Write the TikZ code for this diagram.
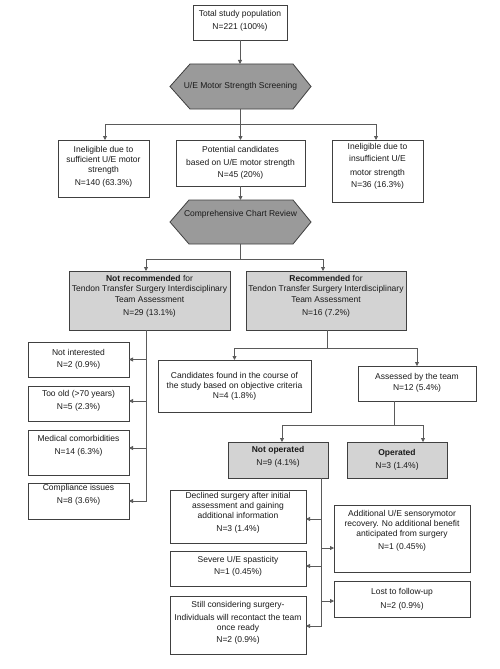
\documentclass[tikz,border=0pt]{standalone}
\usepackage{fontspec}
\setmainfont{Liberation Sans}
\usetikzlibrary{arrows.meta,calc}
\definecolor{linec}{HTML}{404040}
\definecolor{connc}{HTML}{5A5A5A}
\definecolor{hexc}{HTML}{9A9A9A}
\definecolor{grayc}{HTML}{D3D3D3}
\definecolor{txtc}{HTML}{1A1A1A}
\begin{document}
\begin{tikzpicture}[x=1pt,y=-1pt,
  box/.style={draw=linec, line width=0.8pt, fill=white, inner sep=0pt, outer sep=0pt},
  graybox/.style={box, fill=grayc},
  hexbox/.style={draw=none, inner sep=0pt, outer sep=0pt, minimum width=141pt},
  hexpoly/.style={draw=linec, line width=0.8pt, fill=hexc},
  txt/.style={anchor=north, align=center, inner sep=0pt, text=txtc,
    font=\fontsize{8.5}{10}\selectfont},
  arr/.style={draw=connc, line width=0.8pt, -{Triangle[length=4pt,width=4pt]}},
  ln/.style={draw=connc, line width=0.8pt}]
\useasboundingbox[fill=white] (0,0) rectangle (500,669);

% Total
\node[box, minimum width=94pt, minimum height=35pt] (total) at (240,22.5) {};
\node[txt] (totalt) at (240,10) {Total study population\\[3pt]N=221 (100\%)};

% Hexagon 1
\node[hexbox, minimum height=45pt] (hex1) at (240.5,86.5) {};
\draw[hexpoly] (hex1.west) -- ([xshift=20pt]hex1.north west) -- ([xshift=-18pt]hex1.north east)
  -- (hex1.east) -- ([xshift=-18pt]hex1.south east) -- ([xshift=20pt]hex1.south west) -- cycle;
\node[txt, anchor=center] (hex1t) at (240.5,86) {U/E Motor Strength Screening};

% Second row
\node[box, minimum width=91pt, minimum height=57pt] (l1) at (103.5,168.5) {};
\node[txt] (l1t) at (103.5,146) {Ineligible due to\\sufficient U/E motor\\strength\\[3pt]N=140 (63.3\%)};
\node[box, minimum width=129pt, minimum height=46pt] (m1) at (240.5,163) {};
\node[txt] (m1t) at (240.5,146) {Potential candidates\\[3pt]based on U/E motor strength\\[2pt]N=45 (20\%)};
\node[box, minimum width=91pt, minimum height=62pt] (r1) at (377.5,171) {};
\node[txt] (r1t) at (377.5,143) {Ineligible due to\\[2pt]insufficient U/E\\[4pt]motor strength\\[2pt]N=36 (16.3\%)};

% Hexagon 2
\node[hexbox, minimum height=44pt] (hex2) at (240.5,222) {};
\draw[hexpoly] (hex2.west) -- ([xshift=19pt]hex2.north west) -- ([xshift=-18pt]hex2.north east)
  -- (hex2.east) -- ([xshift=-18pt]hex2.south east) -- ([xshift=19pt]hex2.south west) -- cycle;
\node[txt] (hex2t) at (240.5,210.5) {Comprehensive Chart Review};

% Recommendation row
\node[graybox, minimum width=161pt, minimum height=59pt] (notrec) at (149.5,300.5) {};
\node[txt] (notrect) at (149.5,275) {\textbf{Not recommended} for\\Tendon Transfer Surgery Interdisciplinary\\[1pt]Team Assessment\\[3pt]N=29 (13.1\%)};
\node[graybox, minimum width=160pt, minimum height=59pt] (rec) at (326,300.5) {};
\node[txt] (rect) at (326,275) {\textbf{Recommended} for\\Tendon Transfer Surgery Interdisciplinary\\[1pt]Team Assessment\\[3pt]N=16 (7.2\%)};

% Left column
\node[box, minimum width=101pt, minimum height=35pt] (notint) at (78.5,359.5) {};
\node[txt] (notintt) at (78.5,349) {Not interested\\[2pt]N=2 (0.9\%)};
\node[box, minimum width=101pt, minimum height=35pt] (tooold) at (78.5,403.5) {};
\node[txt] (tooldt) at (78.5,390) {Too old (>70 years)\\[3pt]N=5 (2.3\%)};
\node[box, minimum width=101pt, minimum height=45pt] (medical) at (78.5,452.5) {};
\node[txt] (medicalt) at (78.5,435) {Medical comorbidities\\[3pt]N=14 (6.3\%)};
\node[box, minimum width=101pt, minimum height=36pt] (compl) at (78.5,501) {};
\node[txt] (complt) at (78.5,484.5) {Compliance issues\\[3pt]N=8 (3.6\%)};

% Recommended branch
\node[box, minimum width=153pt, minimum height=52pt] (cand) at (234.5,386) {};
\node[txt] (candt) at (234.5,372) {Candidates found in the course of\\the study based on objective criteria\\N=4 (1.8\%)};
\node[box, minimum width=118pt, minimum height=35pt] (assessed) at (417,383.5) {};
\node[txt] (assessedt) at (417,373) {Assessed by the team\\[1pt]N=12 (5.4\%)};

\node[graybox, minimum width=100pt, minimum height=36pt] (notop) at (278,460) {};
\node[txt] (notopt) at (278,446) {\textbf{Not operated}\\[3pt]N=9 (4.1\%)};
\node[graybox, minimum width=100pt, minimum height=36pt] (op) at (397,460) {};
\node[txt] (opt) at (397,449) {\textbf{Operated}\\[3pt]N=3 (1.4\%)};

% Not operated reasons
\node[box, minimum width=136pt, minimum height=53pt] (declined) at (238,516.5) {};
\node[txt] (declinedt) at (238,492) {Declined surgery after initial\\assessment and gaining\\additional information\\[3pt]N=3 (1.4\%)};
\node[box, minimum width=136pt, minimum height=35pt] (severe) at (238,568.5) {};
\node[txt] (severet) at (238,556) {Severe U/E spasticity\\[2pt]N=1 (0.45\%)};
\node[box, minimum width=136pt, minimum height=58pt] (still) at (238,625) {};
\node[txt] (stillt) at (238,601) {Still considering surgery-\\[3pt]Individuals will recontact the team\\once ready\\[2pt]N=2 (0.9\%)};
\node[box, minimum width=136pt, minimum height=67pt] (addl) at (402,538.5) {};
\node[txt] (addlt) at (402,510) {Additional U/E sensorymotor\\recovery. No additional benefit\\anticipated from surgery\\[3pt]N=1 (0.45\%)};
\node[box, minimum width=136pt, minimum height=36pt] (lost) at (402,599) {};
\node[txt] (lostt) at (402,588) {Lost to follow-up\\[4pt]N=2 (0.9\%)};

% Connectors
\draw[arr] (total.south) -- (total.south |- hex1.north);
\draw[arr] (hex1.south) -- ++(0,15) -| ([xshift=1.5pt]l1.north);
\draw[arr] (hex1.south) -- ++(0,15) -| ([xshift=-1.5pt]r1.north);
\draw[arr] (hex1.south) -- (hex1.south |- m1.north);
\draw[arr] (m1.south) -- (m1.south |- hex2.north);
\draw[arr] (hex2.south) -- ++(0,15) -| ([xshift=-3.5pt]notrec.north);
\draw[arr] (hex2.south) -- ++(0,15) -| ([xshift=-3pt]rec.north);

\draw[arr] ([xshift=-3.5pt]notrec.south) |- (notint.east);
\draw[arr] ([xshift=-3.5pt]notrec.south) |- ([yshift=2.5pt]tooold.east);
\draw[arr] ([xshift=-3.5pt]notrec.south) |- ([yshift=4.5pt]medical.east);
\draw[arr] ([xshift=-3.5pt]notrec.south) |- (compl.east);

\draw[arr] ([xshift=1pt]rec.south) -- ++(0,18) -| (cand.north);
\draw[arr] ([xshift=1pt]rec.south) -- ++(0,18) -| (assessed.north);

\draw[arr] ([xshift=-23pt]assessed.south) -- ++(0,24) -| ([xshift=4pt]notop.north);
\draw[arr] ([xshift=-23pt]assessed.south) -- ++(0,24) -| ([xshift=26pt]op.north);

\draw[arr] ([xshift=43pt]notop.south) |- ([yshift=-2.5pt]declined.east);
\draw[arr] ([xshift=43pt]notop.south) |- ([yshift=2.5pt]severe.east);
\draw[arr] ([xshift=43pt]notop.south) |- ([yshift=-1pt]still.east);
\draw[arr] ([xshift=43pt]notop.south) |- ([yshift=-9.5pt]addl.west);
\draw[arr] ([xshift=43pt]notop.south) |- ([yshift=-2pt]lost.west);
\end{tikzpicture}
\end{document}
